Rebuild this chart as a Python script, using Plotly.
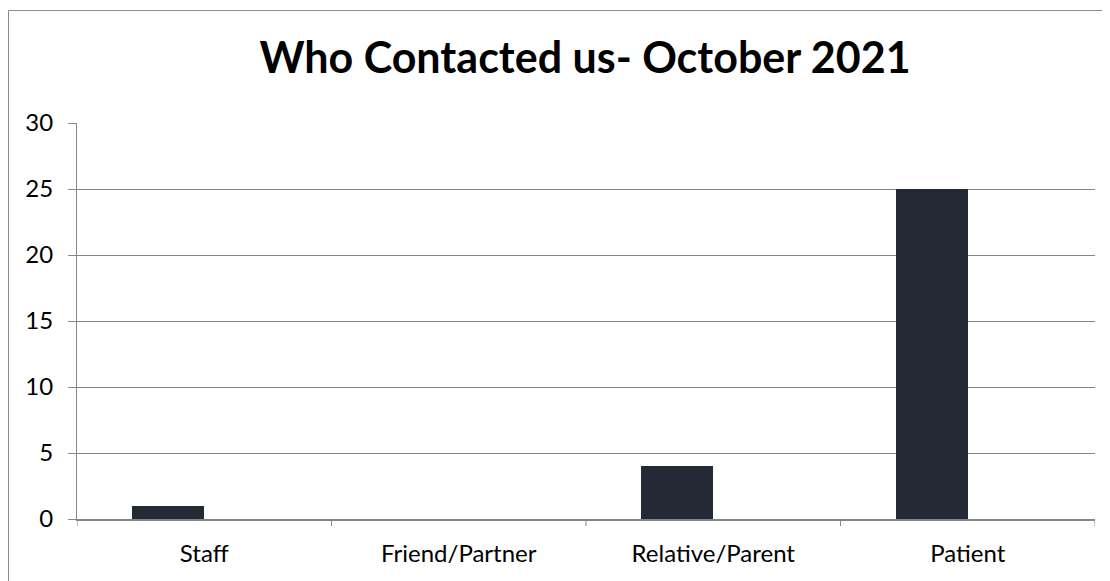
import plotly.graph_objects as go

# data
categories = ['Staff', 'Friend/Partner', 'Relative/Parent', 'Patient']
contacts = [1, 0, 4, 25]
y_ticks = [0, 5, 10, 15, 20, 25, 30]

# page body adds an 8px margin, so the figure is laid out from (8, 8)
W, H = 1102, 573
L, R, T, B = 69, 15, 115, 62
pw = W - L - R
ph = H - T - B

FONT = 'Lato'

fig = go.Figure()
fig.add_trace(go.Bar(
    x=list(range(len(categories))),
    y=contacts,
    width=0.283,
    offset=-0.283,
    marker=dict(color='#232a36', line=dict(width=0)),
    showlegend=False,
))

# outer chart border (cut off at right/bottom like the original)
fig.add_shape(type='rect', xref='paper', yref='paper',
              x0=(0.5 - L) / pw, x1=(W + 5 - L) / pw,
              y0=-(B + 5) / ph, y1=1 + (T - 2.5) / ph,
              line=dict(color='#8c8c8c', width=1), fillcolor='rgba(0,0,0,0)')

fig.update_layout(
    width=W, height=H,
    margin=dict(l=L, r=R, t=T, b=B),
    paper_bgcolor='white', plot_bgcolor='white',
    font=dict(family=FONT, color='#000000', size=24),
    title=dict(text='<b>Who Contacted us- October 2021</b>',
               x=(577) / W, xanchor='center', y=1 - 50 / H, yanchor='middle',
               font=dict(family=FONT, size=43, color='#000000')),
    bargap=0,
)
fig.update_xaxes(
    range=[-0.5, len(categories) - 0.5],
    tickmode='array', tickvals=list(range(len(categories))), ticktext=categories,
    showgrid=False, showline=True, linecolor='#868686', linewidth=2,
    ticks='', zeroline=False, ticklabelstandoff=12,
    tickfont=dict(size=24),
)
# category boundary tick marks
for i in range(len(categories) + 1):
    fig.add_shape(type='line', xref='x', yref='paper', x0=i - 0.5, x1=i - 0.5,
                  y0=0, y1=-7 / ph, line=dict(color='#868686', width=1))
fig.update_yaxes(
    range=[0, 30], tickmode='array', tickvals=y_ticks,
    showgrid=True, gridcolor='#868686', gridwidth=1,
    showline=True, linecolor='#868686', linewidth=1,
    ticks='outside', ticklen=8, tickcolor='#868686',
    zeroline=False, ticklabelstandoff=10, tickfont=dict(size=24),
)

fig.write_html('out.html')
